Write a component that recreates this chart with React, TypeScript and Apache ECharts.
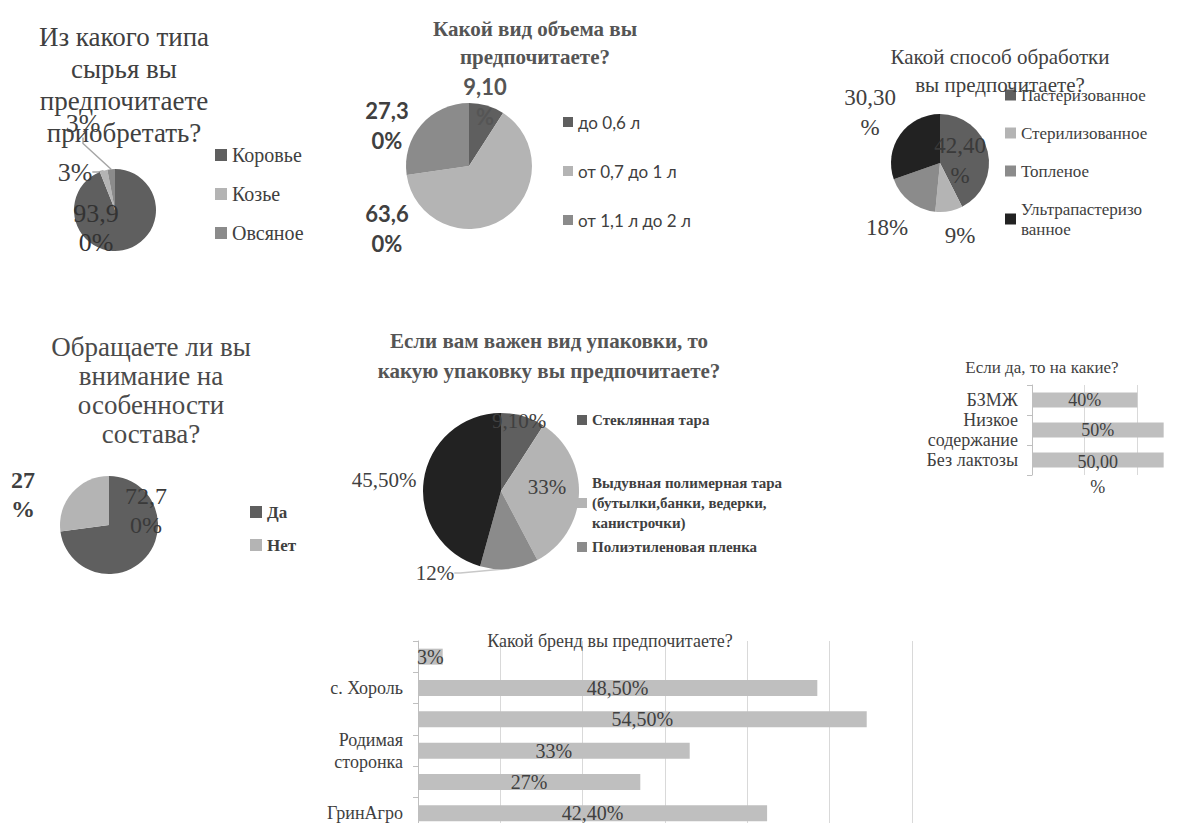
import React, { useEffect, useRef } from "react";
import * as echarts from "echarts";

const SERIF = '"Liberation Serif", "Times New Roman", serif';
const SANS = 'Lato, "Open Sans", sans-serif';

// Chart 1: raw material
const rawNames = ["Коровье", "Козье", "Овсяное"];
const rawValues = [93.9, 3, 3];
const rawLabels = ["93,9\n0%", "3%", "3%"];

// Chart 2: volume
const volNames = ["до 0,6 л", "от 0,7 до 1 л", "от 1,1 л до 2 л"];
const volValues = [9.1, 63.6, 27.3];
const volLabels = ["9,10\n%", "63,6\n0%", "27,3\n0%"];

// Chart 3: processing
const procNames = ["Пастеризованное", "Стерилизованное", "Топленое", "Ультрапастеризованное"];
const procValues = [42.4, 9, 18, 30.3];
const procLabels = ["42,40\n%", "9%", "18%", "30,30\n%"];

// Chart 4: composition
const compNames = ["Да", "Нет"];
const compValues = [72.7, 27];
const compLabels = ["72,7\n0%", "27\n%"];

// Chart 5: packaging
const packNames = [
  "Стеклянная тара",
  "Выдувная полимерная тара (бутылки,банки, ведерки, канистрочки)",
  "Полиэтиленовая пленка",
  "Не важно",
];
const packValues = [9.1, 33, 12, 45.5];
const packLabels = ["9,10%", "33%", "12%", "45,50%"];

// Chart 6: which features
const featCats = ["БЗМЖ", "Низкое\nсодержание", "Без лактозы"];
const featValues = [0.4, 0.5, 0.5];
const featLabels = ["40%", "50%", "50,00\n%"];

// Chart 7: brand
const brandCats = ["", "с. Хороль", "", "Родимая\nсторонка", "", "ГринАгро"];
const brandValues = [0.03, 0.485, 0.545, 0.33, 0.27, 0.424];
const brandLabels = ["3%", "48,50%", "54,50%", "33%", "27%", "42,40%"];

// ---- styling / layout ----
const DARK = "#5f5f5f";
const LIGHT = "#b4b4b4";
const MID = "#8b8b8b";
const BLACK = "#222222";
const BAR = "#bfbfbf";
const TXT = "#404040";

const legendWrap: Record<string, string> = {
  "Ультрапастеризованное": "Ультрапастеризо\nванное",
  "Выдувная полимерная тара (бутылки,банки, ведерки, канистрочки)":
    "Выдувная полимерная тара\n(бутылки,банки, ведерки,\nканистрочки)",
};

function pie(
  names: string[],
  values: number[],
  labels: string[],
  colors: string[],
  center: [number, number],
  radius: number,
  labelPos: [number, number][],
  labelStyle: any,
  lines: number[],
  lineColor: string,
  perLabel: any[] = []
) {
  return {
    type: "pie",
    center,
    radius,
    startAngle: 90,
    clockwise: true,
    avoidLabelOverlap: false,
    silent: true,
    label: { show: true, position: "outside", ...labelStyle },
    labelLine: { show: false, length: 6, length2: 6, lineStyle: { color: lineColor, width: 1.5 } },
    labelLayout: (p: any) => {
      const pos = labelPos[p.dataIndex];
      return { x: pos[0], y: pos[1], align: "center", verticalAlign: "middle" };
    },
    data: names.map((n, i) => ({
      name: n,
      value: values[i],
      itemStyle: { color: colors[i] },
      label: { formatter: labels[i], ...(perLabel[i] || {}) },
      labelLine: { show: lines.includes(i) },
    })),
  };
}

function legend(data: string[], left: number, top: number, size: number, gap: number, text: any) {
  return {
    data,
    orient: "vertical",
    left,
    top,
    padding: 0,
    itemWidth: size,
    itemHeight: size,
    itemGap: gap,
    icon: "rect",
    selectedMode: false,
    formatter: (n: string) => legendWrap[n] || n,
    textStyle: { color: TXT, ...text },
  };
}

function title(text: string, x: number, top: number, style: any) {
  return {
    text,
    left: x,
    top,
    textAlign: "center",
    padding: 0,
    textStyle: { fontFamily: SERIF, color: TXT, fontWeight: "normal", ...style },
  };
}

const option: any = {
  animation: false,
  backgroundColor: "#ffffff",
  title: [
    title("Из какого типа\nсырья вы\nпредпочитаете\nприобретать?", 124, 21, { fontSize: 27, lineHeight: 32 }),
    title("Какой вид объема вы\nпредпочитаете?", 535, 15, { fontSize: 21, lineHeight: 28, fontWeight: "bold", color: "#555" }),
    title("Какой способ обработки\nвы предпочитаете?", 1000, 43, { fontSize: 21, lineHeight: 28 }),
    title("Обращаете ли вы\nвнимание на\nособенности\nсостава?", 151, 332, { fontSize: 27, lineHeight: 29, color: "#4a4a4a" }),
    title("Если вам важен вид упаковки, то\nкакую упаковку вы предпочитаете?", 549, 326, { fontSize: 21, lineHeight: 30, fontWeight: "bold", color: "#555" }),
    title("Если да, то на какие?", 1042, 358, { fontSize: 17, lineHeight: 18 }),
    title("Какой бренд вы предпочитаете?", 610, 632, { fontSize: 18, lineHeight: 18 }),
  ],
  legend: [
    legend(rawNames, 215, 145, 12, 19, { fontFamily: SERIF, fontSize: 20, lineHeight: 20 }),
    legend(volNames, 563, 113, 10, 31, { fontFamily: SANS, fontSize: 17, lineHeight: 18 }),
    legend(procNames, 1005, 85, 11, 18, { fontFamily: SERIF, fontSize: 17, lineHeight: 20 }),
    legend(compNames, 250, 502, 12, 13, { fontFamily: SERIF, fontSize: 17, lineHeight: 20, fontWeight: "bold" }),
    legend([packNames[0]], 577, 410, 10, 0, { fontFamily: SERIF, fontSize: 15, lineHeight: 20, fontWeight: "bold" }),
    legend([packNames[1]], 577, 473, 10, 0, { fontFamily: SERIF, fontSize: 15, lineHeight: 20, fontWeight: "bold" }),
    legend([packNames[2]], 577, 537, 10, 0, { fontFamily: SERIF, fontSize: 15, lineHeight: 20, fontWeight: "bold" }),
  ],
  grid: [
    { left: 1032, top: 385, height: 90, right: -8, outerBoundsMode: "none", containLabel: false },
    { left: 418, top: 641, right: 270, bottom: -6, outerBoundsMode: "none", containLabel: false },
  ],
  xAxis: [
    {
      gridIndex: 0, type: "value", min: 0, max: 0.6, interval: 0.2,
      axisLabel: { show: false }, axisLine: { show: false }, axisTick: { show: false },
      splitLine: { show: true, lineStyle: { color: "#d9d9d9", width: 1 } },
    },
    {
      gridIndex: 1, type: "value", min: 0, max: 0.6, interval: 0.1,
      axisLabel: { show: false }, axisLine: { show: false }, axisTick: { show: false },
      splitLine: { show: true, lineStyle: { color: "#d9d9d9", width: 1 } },
    },
  ],
  yAxis: [
    {
      gridIndex: 0, type: "category", inverse: true, data: featCats,
      axisLine: { show: true, lineStyle: { color: "#bfbfbf" } },
      axisTick: { show: true, length: 5, lineStyle: { color: "#bfbfbf" } },
      axisLabel: { interval: 0, margin: 14, fontFamily: SERIF, fontSize: 18, lineHeight: 20, color: TXT },
    },
    {
      gridIndex: 1, type: "category", inverse: true, data: brandCats,
      axisLine: { show: true, lineStyle: { color: "#bfbfbf" } },
      axisTick: { show: true, length: 5, lineStyle: { color: "#bfbfbf" } },
      axisLabel: { interval: 0, margin: 15, fontFamily: SERIF, fontSize: 18, lineHeight: 22, color: TXT },
    },
  ],
  series: [
    pie(rawNames, rawValues, rawLabels, [DARK, LIGHT, MID], [115, 210], 41,
      [[96, 228], [75, 172], [83, 123]],
      { fontFamily: SERIF, fontSize: 26, lineHeight: 29, color: TXT }, [1, 2], "#a6a6a6",
      [{ color: "#333" }]),
    pie(volNames, volValues, volLabels, [DARK, LIGHT, MID], [469, 166], 63,
      [[485, 101], [387, 228], [387, 125]],
      { fontFamily: SANS, fontSize: 22, fontWeight: "bold", lineHeight: 30, color: TXT }, [], "#a6a6a6",
      [{ color: "#555" }]),
    pie(procNames, procValues, procLabels, [DARK, LIGHT, MID, BLACK], [940, 163], 49,
      [[960, 160], [960, 235], [887, 227], [870, 112]],
      { fontFamily: SERIF, fontSize: 23, lineHeight: 30, color: TXT }, [], "#a6a6a6",
      [{ color: "#3a3a3a" }]),
    pie(compNames, compValues, compLabels, [DARK, LIGHT], [109, 525], 49,
      [[146, 510], [23, 494]],
      { fontFamily: SERIF, fontSize: 24, lineHeight: 29, color: TXT }, [], "#a6a6a6",
      [{ color: "#3a3a3a" }, { fontWeight: "bold" }]),
    pie(packNames, packValues, packLabels, [DARK, LIGHT, MID, BLACK], [501, 491], 78,
      [[519, 421], [547, 487], [435, 573], [384, 480]],
      { fontFamily: SERIF, fontSize: 21, lineHeight: 24, color: TXT }, [2], "#c8c8c8"),
    {
      type: "bar", xAxisIndex: 0, yAxisIndex: 0, barWidth: 15, silent: true,
      itemStyle: { color: BAR },
      label: { show: true, position: "inside", fontFamily: SERIF, fontSize: 18, lineHeight: 25, color: TXT },
      data: featValues.map((v, i) => ({
        value: v,
        label: { formatter: featLabels[i], offset: i === 2 ? [0, 14] : [0, 0] },
      })),
    },
    {
      type: "bar", xAxisIndex: 1, yAxisIndex: 1, barWidth: 16, silent: true,
      itemStyle: { color: BAR },
      label: { show: true, position: "inside", fontFamily: SERIF, fontSize: 20, color: TXT },
      data: brandValues.map((v, i) => ({ value: v, label: { formatter: brandLabels[i] } })),
    },
  ],
};

export default function App() {
  const ref = useRef<HTMLDivElement>(null);
  useEffect(() => {
    if (!ref.current) return;
    const chart = echarts.init(ref.current, null, { renderer: "svg" });
    chart.setOption(option);
    return () => chart.dispose();
  }, []);
  return (
    <div
      ref={ref}
      style={{ position: "absolute", left: 0, top: 0, width: 1182, height: 823, background: "#fff" }}
    />
  );
}
